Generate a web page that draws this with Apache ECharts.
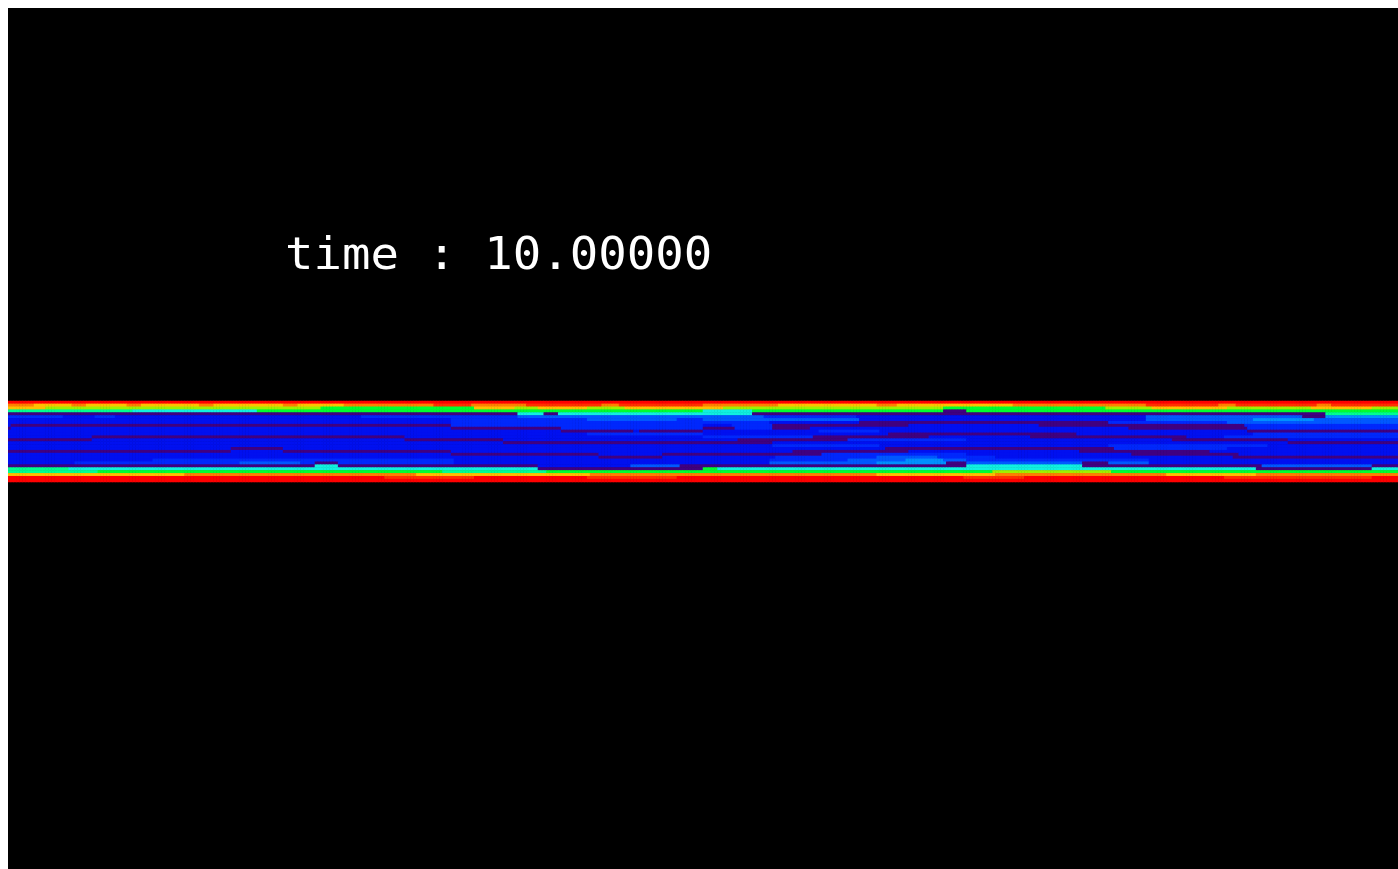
<!DOCTYPE html>
<html>
<head>
<meta charset="utf-8">
<script src="https://cdn.jsdelivr.net/npm/echarts@6/dist/echarts.min.js"></script>
<style>
  html, body { margin: 0; padding: 0; background: #ffffff; overflow: hidden; }
  #chart { position: absolute; left: 8px; top: 8px; width: 1390px; height: 861px; background: #000000; }
</style>
</head>
<body>
<div id="chart"></div>
<script>
// ---- data ----
const titleText = 'time : 10.00000';
const nCols = 480;
const nRows = 28;
// level codes 0 (indigo, lowest) .. 12 (red, highest)
const levelColors = ['#400080', '#0010f0', '#0028fc', '#0058ff', '#0090ff', '#10f0e0',
                     '#00ff90', '#00ff30', '#a0f000', '#ffc000', '#ff8000', '#ff3000', '#ff0000'];
// base level of each row (top to bottom)
const rowBase = [12, 10, 8, 7, 0, 1, 1, 1, 1, 1, 1, 1, 1, 1, 1, 1, 1, 1, 1, 1, 1, 1, 0, 5, 7, 10, 12, 12];
// overrides per row: [fromCol, toCol, level]
const rowRuns = [
  [],
  [[0, 8, 10], [9, 115, 9], [22, 26, 10], [41, 45, 10], [66, 70, 10], [95, 99, 10], [116, 146, 10], [147, 239, 11], [160, 178, 10], [205, 210, 10],
   [245, 265, 10], [266, 346, 9], [300, 306, 10], [347, 392, 10], [393, 479, 11], [418, 423, 10], [452, 456, 10]],
  [[0, 12, 9], [13, 107, 8], [108, 160, 7], [161, 239, 9], [175, 182, 8], [200, 212, 8], [240, 246, 9], [247, 322, 8], [323, 378, 7], [379, 479, 8], [395, 420, 9], [450, 470, 9]],
  [[0, 42, 6], [43, 85, 5], [86, 239, 7], [240, 256, 5], [257, 322, 7], [323, 330, 0], [331, 479, 7]],
  [[176, 184, 5], [190, 256, 5], [455, 479, 6]],
  [[0, 18, 2], [30, 36, 2], [122, 175, 2], [176, 239, 3], [240, 260, 3], [261, 292, 2], [393, 446, 3], [447, 454, 0], [455, 479, 4]],
  [[153, 239, 2], [200, 230, 3], [240, 293, 3], [393, 479, 3], [430, 450, 4]],
  [[153, 239, 2], [240, 262, 2], [294, 379, 0], [380, 420, 2], [421, 479, 3]],
  [[1, 152, 0], [153, 239, 2], [250, 263, 2], [264, 310, 0], [356, 426, 0], [427, 479, 2]],
  [[0, 0, 0], [153, 190, 0], [191, 239, 2], [240, 250, 0], [251, 263, 2], [264, 276, 0], [387, 427, 0], [428, 479, 2]],
  [[191, 239, 0], [216, 217, 1], [280, 300, 2], [428, 479, 0]],
  [[200, 239, 2], [304, 368, 0], [430, 479, 2]],
  [[29, 136, 0], [240, 277, 2], [278, 317, 0], [353, 406, 0], [420, 479, 2]],
  [[0, 28, 0], [137, 170, 0], [252, 289, 0], [290, 330, 2], [402, 441, 0]],
  [[171, 239, 0], [240, 263, 0], [442, 479, 0]],
  [[264, 300, 2], [380, 434, 2]],
  [[77, 94, 0], [303, 381, 0], [382, 420, 2]],
  [[0, 76, 0], [95, 152, 0], [271, 310, 0], [370, 414, 0]],
  [[153, 203, 0], [226, 239, 0], [240, 280, 0], [281, 330, 2], [388, 424, 0]],
  [[204, 225, 0], [265, 340, 2], [300, 320, 3], [423, 479, 0]],
  [[50, 153, 2], [263, 393, 2], [290, 330, 3], [310, 322, 4]],
  [[23, 153, 2], [80, 100, 3], [106, 113, 0], [263, 393, 3], [300, 324, 4], [324, 330, 0], [371, 379, 0]],
  [[106, 113, 5], [183, 231, 1], [215, 231, 3], [331, 370, 5], [433, 470, 3]],
  [[0, 20, 6], [183, 239, 0], [240, 244, 7], [431, 470, 0]],
  [[0, 30, 6], [60, 110, 7], [150, 185, 6], [240, 300, 7], [340, 380, 8], [420, 479, 7]],
  [[0, 60, 9], [61, 140, 10], [141, 200, 9], [201, 239, 10], [300, 340, 9], [341, 479, 10], [400, 430, 9]],
  [[130, 160, 11], [200, 230, 11], [330, 350, 11], [420, 470, 11]],
  []
];
const rowLabels = Array.from({ length: nRows }, (_, i) => String(i));
const colLabels = Array.from({ length: nCols }, (_, i) => String(i));

// ---- build heatmap table ----
const data = [];
for (let r = 0; r < nRows; r++) {
  const row = new Array(nCols).fill(rowBase[r]);
  for (const [a, b, v] of rowRuns[r]) {
    for (let c = a; c <= b; c++) row[c] = v;
  }
  for (let c = 0; c < nCols; c++) data.push([c, r, row[c]]);
}

const chart = echarts.init(document.getElementById('chart'), null, { renderer: 'canvas' });
chart.setOption({
  backgroundColor: '#000000',
  animation: false,
  grid: { left: 0, right: 0, top: 393, height: 81 },
  xAxis: { type: 'category', data: colLabels, show: false },
  yAxis: { type: 'category', data: rowLabels, inverse: true, show: false },
  visualMap: {
    show: false,
    type: 'piecewise',
    dimension: 2,
    pieces: levelColors.map((c, i) => ({ value: i, color: c }))
  },
  graphic: [{
    type: 'text',
    left: 277,
    top: 228,
    scaleX: 1.075,
    style: {
      text: titleText,
      fill: '#ffffff',
      font: 'normal 44px "DejaVu Sans Mono"'
    }
  }],
  series: [{
    type: 'heatmap',
    data: data,
    progressive: 0,
    itemStyle: { borderWidth: 0 },
    emphasis: { disabled: true }
  }]
});
</script>
</body>
</html>
